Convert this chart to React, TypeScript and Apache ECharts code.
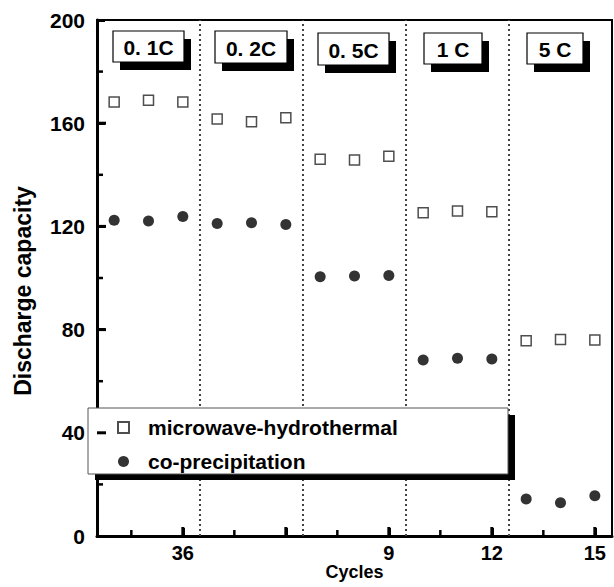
import React, { useEffect, useRef } from "react";
import * as echarts from "echarts";

const cycles = [1, 2, 3, 4, 5, 6, 7, 8, 9, 10, 11, 12, 13, 14, 15];
const microwave = [168.2, 168.9, 168.2, 161.6, 160.6, 162.1, 146.0, 145.7, 147.2, 125.3, 126.0, 125.7, 75.7, 76.2, 76.0];
const coprecip = [122.4, 122.1, 123.8, 121.1, 121.4, 120.7, 100.5, 100.8, 101.0, 68.2, 68.9, 68.6, 14.3, 12.9, 15.6];
const seriesNames = ["microwave-hydrothermal", "co-precipitation"];
const separators = [3.5, 6.5, 9.5, 12.5];
const xMajorTicks = [3, 6, 9, 12, 15];
const xMinorTicks = [1.5, 4.5, 7.5, 10.5, 13.5];
const yMajorTicks = [40, 80, 120, 160];
const yMinorTicks = [20, 60, 100, 140, 180];
const xLabelValues = [3, 9, 12, 15];
const xLabelTexts = ["36", "9", "12", "15"];
const rateLabels = ["0. 1C", "0. 2C", "0. 5C", "1 C", "5 C"];
const yTitle = "Discharge capacity";

const FONT = "'Liberation Sans', Arial, sans-serif";

// label box layout (pixels)
const rateBoxes = [
  { x: 113, y: 31, w: 71, h: 31 },
  { x: 215, y: 31, w: 72, h: 32 },
  { x: 318, y: 33, w: 71, h: 32 },
  { x: 424, y: 33, w: 58, h: 31 },
  { x: 527, y: 33, w: 56, h: 31 },
];

export default function App() {
  const ref = useRef<HTMLDivElement>(null);
  useEffect(() => {
    if (!ref.current) return;
    const chart = echarts.init(ref.current, null, { renderer: "svg" });

    const graphics: any[] = [];
    rateBoxes.forEach((b, i) => {
      graphics.push({
        type: "rect",
        z: 50,
        shape: { x: b.x + 7, y: b.y + 8, width: b.w, height: b.h },
        style: { fill: "#000" },
      });
      graphics.push({
        type: "rect",
        z: 51,
        shape: { x: b.x, y: b.y, width: b.w, height: b.h },
        style: { fill: "#fff", stroke: "#000", lineWidth: 1.2 },
      });
      graphics.push({
        type: "text",
        z: 52,
        x: b.x + b.w / 2,
        y: b.y + b.h / 2 + 1,
        style: {
          text: rateLabels[i],
          fill: "#000",
          font: `bold 21px ${FONT}`,
          textAlign: "center",
          textVerticalAlign: "middle",
        },
      });
    });
    // legend box with shadow
    graphics.push({
      type: "rect",
      z: 50,
      shape: { x: 95, y: 415, width: 420, height: 65 },
      style: { fill: "#000" },
    });
    graphics.push({
      type: "rect",
      z: 51,
      shape: { x: 88, y: 408, width: 420, height: 66 },
      style: { fill: "#fff", stroke: "#555", lineWidth: 1 },
    });
    // y axis title
    graphics.push({
      type: "text",
      z: 10,
      x: 23,
      y: 291,
      rotation: Math.PI / 2,
      style: {
        text: yTitle,
        fill: "#000",
        font: `bold 23px ${FONT}`,
        textAlign: "center",
        textVerticalAlign: "middle",
      },
    });

    const option: any = {
      animation: false,
      backgroundColor: "#fff",
      textStyle: { fontFamily: FONT },
      grid: {
        left: 97,
        right: 2,
        top: 20,
        bottom: 51,
        show: true,
        borderColor: "#000",
        borderWidth: 2,
        backgroundColor: "transparent",
        outerBoundsMode: "none",
        containLabel: false,
      },
      legend: {
        z: 60,
        orient: "vertical",
        left: 112,
        top: 410,
        itemWidth: 11,
        itemHeight: 11,
        itemGap: 9,
        data: seriesNames,
        textStyle: {
          fontFamily: FONT,
          fontWeight: "bold",
          fontSize: 21,
          color: "#000",
          lineHeight: 25,
          padding: [0, 0, 0, 14],
        },
      },
      xAxis: {
        type: "value",
        min: 0.5,
        max: 15.5,
        name: "Cycles",
        nameLocation: "middle",
        nameGap: 27,
        nameMoveOverlap: false,
        nameTextStyle: { fontFamily: FONT, fontWeight: "bold", fontSize: 18, color: "#000" },
        axisLine: { show: true, onZero: false, lineStyle: { color: "#000", width: 3 } },
        axisTick: {
          show: true,
          inside: true,
          length: 8,
          customValues: xMajorTicks,
          lineStyle: { color: "#000", width: 3 },
        },
        axisLabel: {
          show: true,
          margin: 7,
          customValues: xLabelValues,
          formatter: (v: number) => {
            const idx = xLabelValues.indexOf(v);
            return idx >= 0 ? xLabelTexts[idx] : "";
          },
          fontFamily: FONT,
          fontWeight: "bold",
          fontSize: 20,
          color: "#000",
        },
        splitLine: { show: false },
      },
      yAxis: {
        type: "value",
        min: 0,
        max: 200,
        interval: 40,
        axisLine: { show: true, onZero: false, lineStyle: { color: "#000", width: 3 } },
        axisTick: {
          show: true,
          inside: true,
          length: 8,
          lineStyle: { color: "#000", width: 3 },
        },
        axisLabel: {
          margin: 12,
          fontFamily: FONT,
          fontWeight: "bold",
          fontSize: 21,
          color: "#000",
        },
        splitLine: { show: false },
      },
      series: [
        {
          name: seriesNames[0],
          type: "scatter",
          symbol: "rect",
          symbolSize: 10,
          itemStyle: { color: "#fff", borderColor: "#222", borderWidth: 1.5 },
          data: cycles.map((c, i) => [c, microwave[i]]),
          markLine: {
            silent: true,
            symbol: ["none", "none"],
            label: { show: false },
            lineStyle: { color: "#444", type: [2, 3], width: 2 },
            data: separators.map((s) => ({ xAxis: s })),
          },
        },
        {
          name: seriesNames[1],
          type: "scatter",
          symbol: "circle",
          symbolSize: 11,
          itemStyle: { color: "#000" },
          data: cycles.map((c, i) => [c, coprecip[i]]),
        },
      ],
    };
    chart.setOption(option);

    // extra inward ticks positioned through the series' coordinate system
    const tickRects: any[] = [];
    const toPx = (pt: number[]) =>
      chart.convertToPixel({ seriesIndex: 0 }, pt) as unknown as number[];
    const addX = (v: number, len: number, w: number) => {
      const p = toPx([v, 0]);
      if (!p || isNaN(p[0])) return;
      tickRects.push({
        type: "rect",
        z: 55,
        shape: { x: p[0] - w / 2, y: p[1] - len - 1, width: w, height: len + 1 },
        style: { fill: "#000" },
      });
    };
    const addY = (v: number, len: number, w: number) => {
      const p = toPx([0.5, v]);
      if (!p || isNaN(p[0])) return;
      tickRects.push({
        type: "rect",
        z: 55,
        shape: { x: p[0], y: p[1] - w / 2, width: len + 1, height: w },
        style: { fill: "#000" },
      });
    };
    xMajorTicks.forEach((v) => addX(v, 8, 3));
    xMinorTicks.forEach((v) => addX(v, 5, 2.5));
    yMajorTicks.forEach((v) => addY(v, 8, 3));
    yMinorTicks.forEach((v) => addY(v, 5, 2.5));

    chart.setOption({ graphic: [...graphics, ...tickRects] });
    return () => chart.dispose();
  }, []);
  return (
    <div
      ref={ref}
      style={{ position: "fixed", left: 0, top: 0, width: 614, height: 587 }}
    />
  );
}
